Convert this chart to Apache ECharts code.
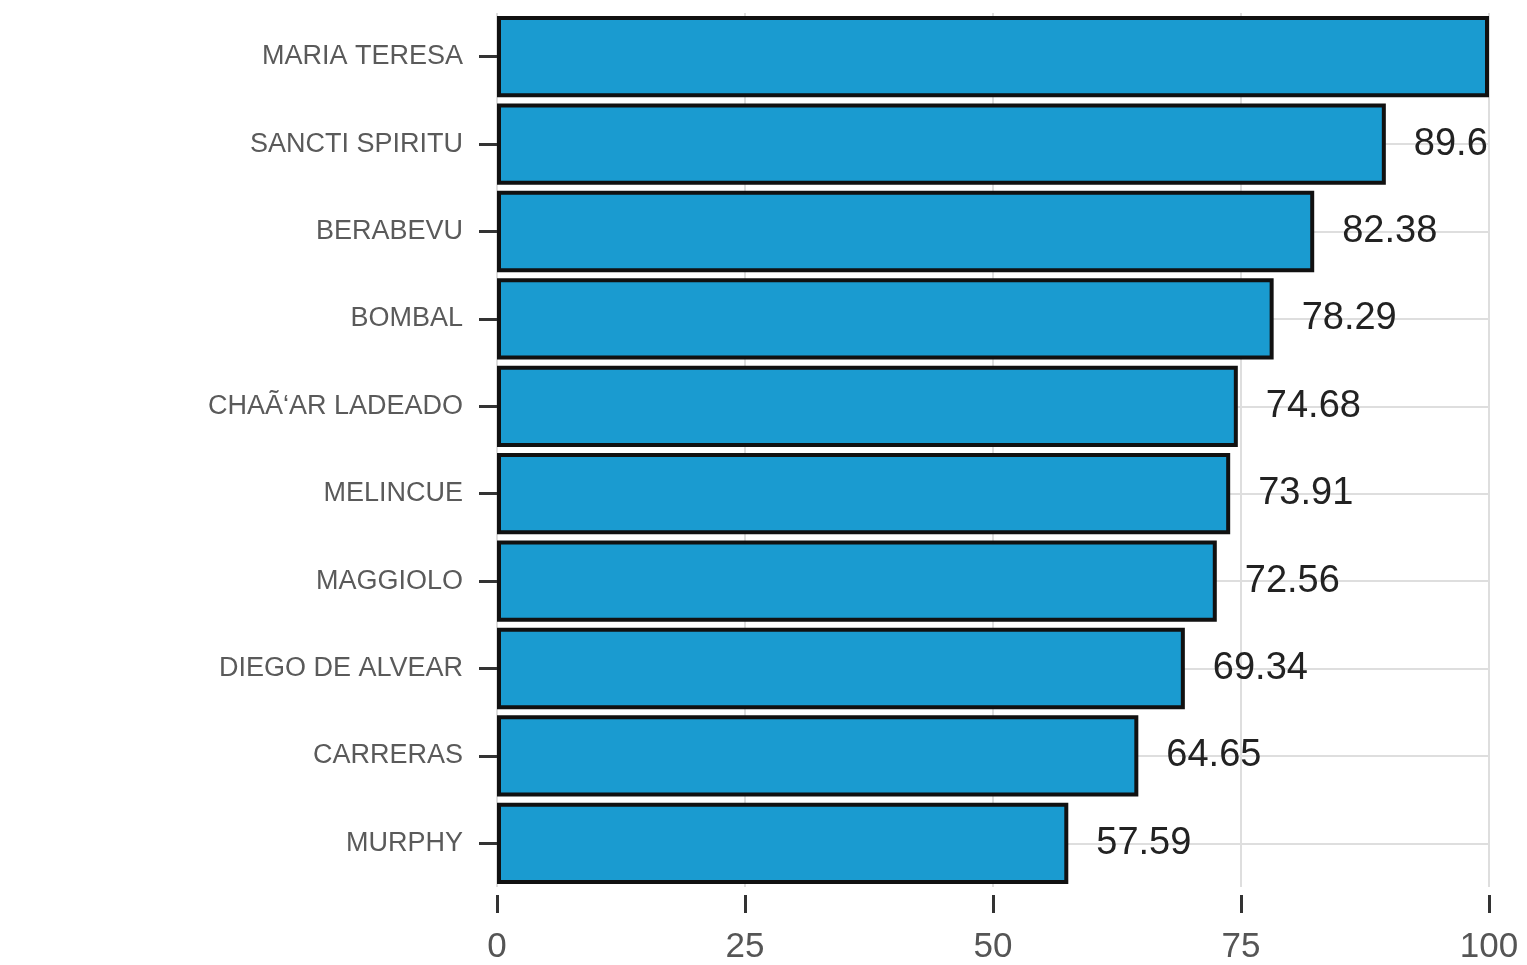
<!DOCTYPE html>
<html>
<head>
<meta charset="utf-8">
<script src="https://cdn.jsdelivr.net/npm/echarts@6/dist/echarts.min.js"></script>
<style>
html,body{margin:0;padding:0;background:#fff;}
#c{width:1527px;height:965px;}
</style>
</head>
<body>
<div id="c"></div>
<script>
const categories = ["MARIA TERESA","SANCTI SPIRITU","BERABEVU","BOMBAL","CHAÃ‘AR LADEADO","MELINCUE","MAGGIOLO","DIEGO DE ALVEAR","CARRERAS","MURPHY"];
const values = [100, 89.6, 82.38, 78.29, 74.68, 73.91, 72.56, 69.34, 64.65, 57.59];
const xTicks = [0, 25, 50, 75, 100];

const chart = echarts.init(document.getElementById('c'), null, {renderer:'canvas'});
chart.setOption({
  animation: false,
  backgroundColor: '#fff',
  grid: {left: 497, right: 38, top: 13, bottom: 68, containLabel: false},
  xAxis: {
    type: 'value', min: 0, max: 100, interval: 25, offset: 8,
    axisLine: {show: false},
    axisTick: {show: true, length: 18, lineStyle: {color: '#333', width: 3}},
    axisLabel: {margin: 35, fontSize: 35, color: '#555', fontFamily: 'Liberation Sans, Arial, sans-serif',
      formatter: v => xTicks.includes(v) ? String(v) : ''},
    splitLine: {show: true, lineStyle: {color: '#dedede', width: 2}}
  },
  yAxis: {
    type: 'category', data: categories, inverse: true,
    axisLine: {show: false},
    axisTick: {show: true, alignWithLabel: true, length: 18, lineStyle: {color: '#333', width: 3}},
    axisLabel: {margin: 34, fontSize: 27, color: '#5a5a5a', fontFamily: 'Liberation Sans, Arial, sans-serif'},
    splitLine: {show: true, alignWithLabel: true, lineStyle: {color: '#dedede', width: 2}}
  },
  series: [{
    type: 'bar',
    data: values.map((v, i) => ({value: v, label: {show: i !== 0}})),
    barCategoryGap: '7%',
    itemStyle: {color: '#1a9bd0', borderColor: '#111', borderWidth: 4},
    label: {show: true, position: 'right', distance: 28, fontSize: 38, color: '#222',
      fontFamily: 'Liberation Sans, Arial, sans-serif'}
  }]
});
</script>
</body>
</html>
